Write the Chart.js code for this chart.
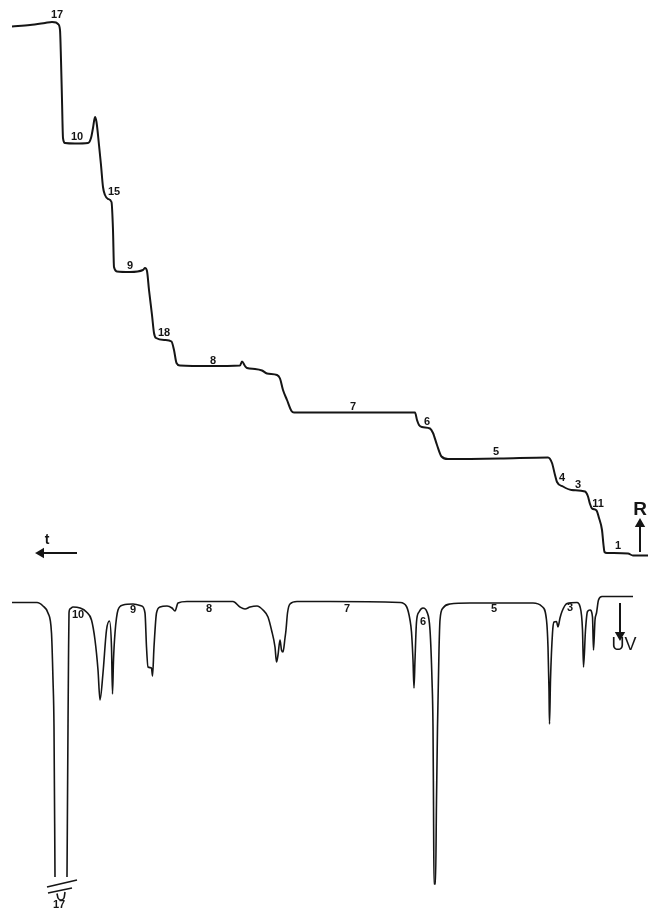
<!DOCTYPE html>
<html>
<head>
<meta charset="utf-8">
<title>Isotachopherogram R / UV</title>
<script src="https://cdn.jsdelivr.net/npm/chart.js@4/dist/chart.umd.min.js"></script>
<style>
  html, body { margin: 0; padding: 0; background: #fff; }
  #wrap { width: 648px; height: 910px; }
</style>
</head>
<body>
<div id="wrap"><canvas id="zone-chart" width="648" height="910"></canvas></div>
<script>
/* ============================================= */
/* DATA */
/* ============================================= */

// R trace (resistance steps), time runs right -> left
const rTime = [12, 30, 45, 52, 56, 58, 60, 61, 62, 63, 65, 75, 88, 91, 93, 95, 96.5, 99, 101, 103,
  105, 108, 111.5, 113, 114, 117, 130, 143, 145, 147, 149, 152, 154, 156, 165, 171.5, 174, 176.5, 180,
  210, 240, 242, 245, 247, 255, 262, 267, 277, 280, 283, 287, 291.5, 294, 350, 415, 417, 419, 422,
  430, 433, 437, 441.5, 448, 500, 548, 552, 555, 557, 563, 571.5, 585, 588, 590, 592, 596.5, 599,
  602, 603.5, 604.5, 607, 628, 633, 648];
const rLevel = [525.5, 527, 529, 530, 529.5, 528, 522, 492, 452, 414, 409, 408.5, 409, 414, 424, 435, 430, 407, 387, 365,
  357, 353, 350, 322, 285, 280.5, 280, 282, 284, 281, 262, 237, 219, 214, 212, 210.5, 202, 189, 186.5,
  186, 186.5, 190.5, 186, 184, 183, 181.5, 178.5, 177, 173.5, 162, 152, 141, 139.5, 139.5, 139.5, 132, 127, 125,
  123.5, 119, 107, 95.5, 93, 93.5, 94.5, 89, 77, 70, 65.5, 62, 60.5, 55.5, 48, 43.5, 41.5, 34,
  22, 7, 0, -1, -1.5, -3.5, -3.5];

// UV trace (absorbance, downwards); null = off scale (peak 17)
const uvTime = [12, 37, 43, 48, 51.5, 53, 54, 55, 61, 67, 68, 68.5, 69, 70, 73, 80, 86.5, 91.5, 95, 98, 100,
  103, 106.5, 109.5, 111.5, 112.5, 113.5, 115, 118, 123, 133, 141.5, 145, 146.5, 148, 151.5, 152.5, 154,
  156.5, 160, 167, 172, 175, 178, 187, 233, 240, 245, 250, 257, 263, 268, 271.5, 275, 276.5, 278, 280,
  281.5, 283, 285, 286, 287.5, 290, 297, 330, 400, 406.5, 410, 411.5, 413, 414, 415, 416.5, 419, 423, 427,
  430, 432, 433, 433.5, 434, 435.5, 436.5, 437.5, 439, 440, 443, 450, 470, 533, 542, 546.5, 548, 549,
  549.5, 550.5, 552.5, 554, 556.5, 558, 560, 562, 567, 577, 580, 582.5, 583.5, 585.5, 587.5, 590, 592.5,
  593.5, 595, 596.5, 598.5, 602, 633];
const uvAbs = [0.5, 0.5, 4, 11, 31, 78, 125, 275, null, 275, 125, 58, 11, 7, 5, 6, 10, 18, 38, 68, 98,
  71, 28, 19, 45, 92, 58, 31, 8, 3, 2, 4, 11, 45, 65, 66, 74, 45,
  11, 5, 4, 6, 9, 1, -0.5, -0.5, 5, 7, 5, 4, 8, 15, 28, 45, 60, 53, 38,
  48, 50, 36, 28, 11, 2, -0.5, -0.5, 0.5, 4.5, 18, 30, 58, 86, 58, 20, 10, 6, 10,
  28, 78, 125, 198, 282, 282, 198, 125, 48, 18, 6, 2, 1, 1, 4.5, 18, 45, 88,
  122, 78, 31, 20, 19.5, 25, 16, 9.5, 1.5, 0.5, 4.5, 28, 65, 28, 9.5, 8, 15,
  48, 18, 11, -2, -5.5, -5.5];

// off-scale marker under peak 17
const breakUpperX = [47, 77];
const breakUpperY = [285, 278];
const breakLowerX = [48, 72];
const breakLowerY = [291, 286];
const offScaleX = [57, 58, 61, 64, 65];
const offScaleY = [291.5, 296, 298, 296, 290];

// zone numbers
const rLabels = ["17", "10", "15", "9", "18", "8", "7", "6", "5", "4", "3", "11", "1"];
const rLabelX = [57, 77, 114, 130, 164, 213, 353, 427, 496, 562, 578, 598, 618];
const rLabelY = [537, 415, 360, 286, 219, 191, 145, 130, 100, 74, 67, 48, 6];

const uvLabels = ["10", "9", "8", "7", "6", "5", "3", "17"];
const uvLabelX = [78, 133, 209, 347, 423, 494, 570, 59];
const uvLabelY = [13, 8, 7, 7, 20, 7, 6, 303];

// arrows
const rArrowX = [640, 640];
const rArrowY = [0, 28];
const tArrowX = [77, 41];
const tArrowY = [-1, -1];
const uvArrowX = [620, 620];
const uvArrowY = [1, 33];

const pts = (xs, ys) => xs.map((x, i) => ({ x: x, y: ys[i] }));

/* ============================================= */
/* CHART */
/* ============================================= */

const ink = '#151515';

const lineSet = (data, axis, width, smooth) => ({
  data: data,
  yAxisID: axis,
  borderColor: ink,
  borderWidth: width,
  pointRadius: 0,
  tension: 0,
  cubicInterpolationMode: smooth ? 'monotone' : 'default',
  spanGaps: false,
  fill: false,
});

const arrowSet = (data, axis, rot) => ({
  data: data,
  yAxisID: axis,
  borderColor: ink,
  backgroundColor: ink,
  borderWidth: 2,
  pointStyle: 'triangle',
  pointRadius: [0, 4],
  pointRotation: [0, rot],
  tension: 0,
});

// text labels placed through the scales
const zoneText = {
  id: 'zoneText',
  afterDatasetsDraw(chart) {
    const ctx = chart.ctx;
    const x = chart.scales.x;
    const yR = chart.scales.yR;
    const yUV = chart.scales.yUV;
    ctx.save();
    ctx.fillStyle = ink;
    ctx.textAlign = 'center';
    ctx.textBaseline = 'middle';
    ctx.font = 'bold 11px "Liberation Sans", Arial, sans-serif';
    rLabels.forEach((t, i) => ctx.fillText(t, x.getPixelForValue(rLabelX[i]), yR.getPixelForValue(rLabelY[i])));
    uvLabels.forEach((t, i) => ctx.fillText(t, x.getPixelForValue(uvLabelX[i]), yUV.getPixelForValue(uvLabelY[i])));
    ctx.font = 'bold 19px "Liberation Sans", Arial, sans-serif';
    ctx.fillText('R', x.getPixelForValue(640), yR.getPixelForValue(42));
    ctx.font = 'bold 14px "Liberation Sans", Arial, sans-serif';
    ctx.fillText('t', x.getPixelForValue(47), yR.getPixelForValue(12));
    ctx.font = '18px "Liberation Sans", Arial, sans-serif';
    ctx.fillText('UV', x.getPixelForValue(624), yUV.getPixelForValue(43));
    ctx.restore();
  }
};

new Chart(document.getElementById('zone-chart'), {
  type: 'line',
  data: {
    datasets: [
      lineSet(pts(rTime, rLevel), 'yR', 2, true),
      lineSet(pts(uvTime, uvAbs), 'yUV', 1.6, true),
      lineSet(pts(breakUpperX, breakUpperY), 'yUV', 1.6, false),
      lineSet(pts(breakLowerX, breakLowerY), 'yUV', 1.6, false),
      lineSet(pts(offScaleX, offScaleY), 'yUV', 1.6, true),
      arrowSet(pts(rArrowX, rArrowY), 'yR', 0),
      arrowSet(pts(tArrowX, tArrowY), 'yR', -90),
      arrowSet(pts(uvArrowX, uvArrowY), 'yUV', 180),
    ]
  },
  options: {
    responsive: false,
    animation: false,
    layout: { padding: 0, autoPadding: false },
    plugins: {
      legend: { display: false },
      tooltip: { enabled: false },
    },
    scales: {
      x: { type: 'linear', min: 0, max: 648, display: false },
      yR: { type: 'linear', min: -358, max: 552, display: false },
      yUV: { type: 'linear', reverse: true, min: -602, max: 308, display: false },
    }
  },
  plugins: [zoneText]
});
</script>
</body>
</html>
